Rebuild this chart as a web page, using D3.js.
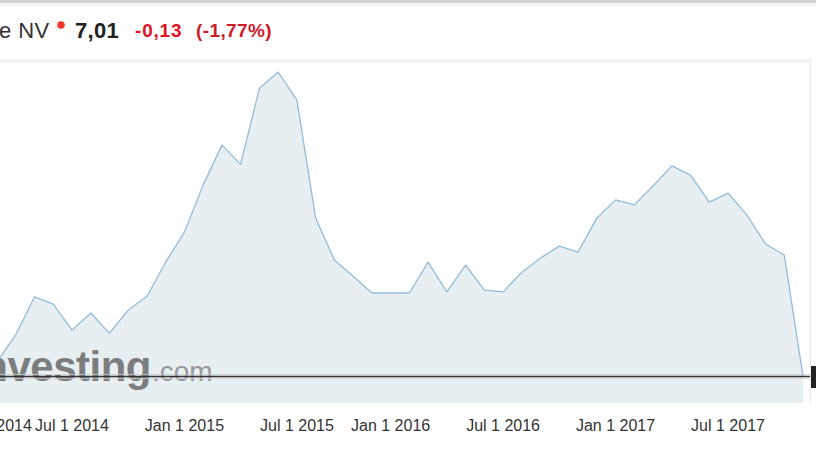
<!DOCTYPE html>
<html><head><meta charset="utf-8">
<script src="https://cdn.jsdelivr.net/npm/d3@7"></script>
<style>
html,body{margin:0;padding:0;background:#fff;overflow:hidden}
svg{display:block;font-family:"Liberation Sans",Arial,Helvetica,sans-serif}
</style></head>
<body>
<svg id="c" width="816" height="459"></svg>
<script>
// ---- data ----
const headerName = "e NV";
const lastPrice = "7,01";
const change = "-0,13";
const changePct = "(-1,77%)";
const priceLevel = 7.01;
// monthly closes (index = point on ordinal time axis)
const values = [7.40, 8.16, 9.22, 9.02, 8.29, 8.77, 8.21, 8.85, 9.24, 10.19,
  11.03, 12.35, 13.46, 12.93, 15.05, 15.50, 14.72, 11.42, 10.25, 9.80,
  9.33, 9.33, 9.33, 10.19, 9.36, 10.11, 9.41, 9.36, 9.91, 10.31,
  10.64, 10.47, 11.42, 11.93, 11.79, 12.32, 12.88, 12.62, 11.87, 12.12,
  11.51, 10.70, 10.39, 7.01];
const tickLabels = ["Jan 1 2014", "Jul 1 2014", "Jan 1 2015", "Jul 1 2015", "Jan 1 2016", "Jul 1 2016", "Jan 1 2017", "Jul 1 2017"];
const tickAt = [-0.25, 4, 10, 16, 21, 27, 33, 39];

// ---- layout ----
const svg = d3.select("#c");
const W = 816, H = 459;
const plotBottom = 403, plotRight = 810;
const x = d3.scaleLinear().domain([0, values.length - 1]).range([-3, 803]);
const y = d3.scaleLinear().domain([6, 16]).range([412.2, 54.2]);

// top border
svg.append("rect").attr("x", 0).attr("y", 0).attr("width", W).attr("height", 3).attr("fill", "#d4d4d4");
svg.append("rect").attr("x", 0).attr("y", 4).attr("width", W).attr("height", 2).attr("fill", "#f1f1f1");

// header
const hdr = svg.append("g");
hdr.append("text").attr("x", -1).attr("y", 38).attr("font-size", 22).attr("letter-spacing", 0.4).attr("fill", "#333").text(headerName);
hdr.append("circle").attr("cx", 61).attr("cy", 25).attr("r", 3.8).attr("fill", "#ef3b2c");
hdr.append("text").attr("x", 75).attr("y", 38).attr("font-size", 22).attr("font-weight", "bold").attr("letter-spacing", 0.3).attr("fill", "#222").text(lastPrice);
hdr.append("text").attr("x", 135).attr("y", 37).attr("font-size", 19).attr("font-weight", "bold").attr("letter-spacing", 0.8).attr("fill", "#e0121f").text(change);
hdr.append("text").attr("x", 196).attr("y", 37).attr("font-size", 19).attr("font-weight", "bold").attr("letter-spacing", 0.4).attr("fill", "#d01a2a").text(changePct);

// plot frame hints
svg.append("rect").attr("x", 0).attr("y", 59).attr("width", plotRight).attr("height", 4).attr("fill", "#f3f3f3");
svg.append("line").attr("x1", plotRight + 0.5).attr("x2", plotRight + 0.5).attr("y1", 59).attr("y2", plotBottom)
  .attr("stroke", "#e8e8e8").attr("stroke-width", 1);

// area + line
const clip = svg.append("clipPath").attr("id", "pc").append("rect")
  .attr("x", 0).attr("y", 63).attr("width", plotRight).attr("height", plotBottom - 63);
const g = svg.append("g").attr("clip-path", "url(#pc)");
const area = d3.area().x((d, i) => x(i)).y0(plotBottom).y1(d => y(d));
const line = d3.line().x((d, i) => x(i)).y(d => y(d));
g.append("path").datum(values).attr("d", area).attr("fill", "#e8eff3");
g.append("path").datum(values).attr("d", line).attr("fill", "none")
  .attr("stroke", "#93bcd9").attr("stroke-width", 1.3).attr("stroke-linejoin", "round");

// watermark
const wm = svg.append("g").attr("opacity", 0.85);
wm.append("text").attr("x", 151).attr("y", 381).attr("text-anchor", "end").attr("font-size", 42)
  .attr("font-weight", "bold").attr("letter-spacing", -0.5).attr("fill", "#6a6a6a").text("Investing");
wm.append("text").attr("x", 152).attr("y", 381).attr("font-size", 28).attr("fill", "#8a8a8a").text(".com");

// current price line + marker
const py = Math.round(y(priceLevel)) + 0.5;
svg.append("line").attr("x1", 0).attr("x2", plotRight).attr("y1", py).attr("y2", py)
  .attr("stroke", "#333").attr("stroke-width", 1.6);
svg.append("line").attr("x1", 0).attr("x2", plotRight).attr("y1", py - 2).attr("y2", py - 2)
  .attr("stroke", "#cfcfcf").attr("stroke-width", 0.8);
svg.append("line").attr("x1", 0).attr("x2", plotRight).attr("y1", py + 2).attr("y2", py + 2)
  .attr("stroke", "#cfcfcf").attr("stroke-width", 0.8);
svg.append("rect").attr("x", 811).attr("y", py - 10.5).attr("width", 6).attr("height", 22).attr("fill", "#222");

// x axis labels
svg.append("g").selectAll("text").data(tickLabels).join("text")
  .attr("x", (d, i) => x(tickAt[i])).attr("y", 431).attr("text-anchor", "middle")
  .attr("font-size", 16).attr("fill", "#333").text(d => d);
</script>
</body></html>
